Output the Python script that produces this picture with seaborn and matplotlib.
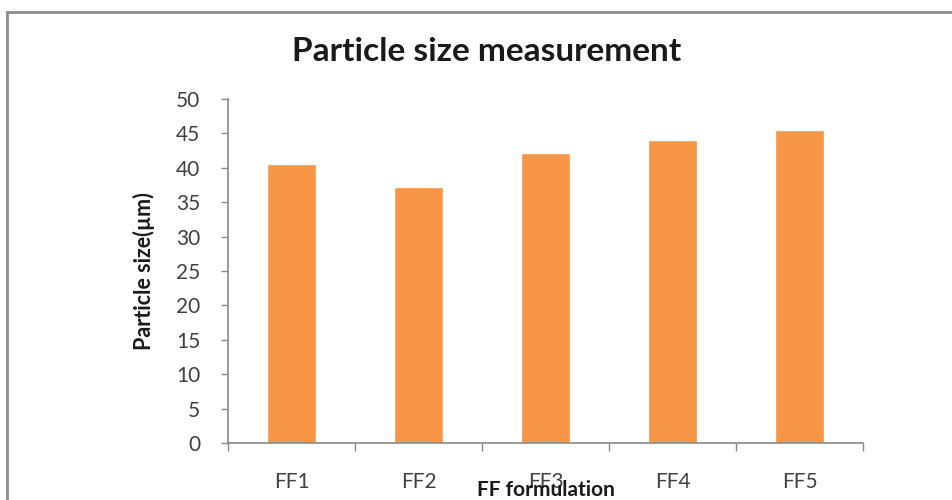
import matplotlib
matplotlib.use("Agg")
import matplotlib.pyplot as plt
import seaborn as sns
import pandas as pd
from matplotlib.patches import Rectangle
from matplotlib.ticker import FixedLocator

categories = ["FF1", "FF2", "FF3", "FF4", "FF5"]
particle_size = [40.5, 37.2, 42.2, 44.0, 45.5]
y_ticks = [0, 5, 10, 15, 20, 25, 30, 35, 40, 45, 50]

sns.set_theme(style="white")
plt.rcParams["font.family"] = ["Lato", "DejaVu Sans"]

df = pd.DataFrame({"formulation": categories, "size": particle_size})

fig = plt.figure(figsize=(9.52, 5.0), dpi=100)
ax = fig.add_axes([228 / 952, 1 - 443 / 500, 635 / 952, 344 / 500])

sns.barplot(data=df, x="formulation", y="size", color="#F79646",
            saturation=1, width=0.39, ax=ax)

ax.set_xlim(-0.5, len(categories) - 0.5)
ax.set_ylim(0, 50)
ax.set_yticks(y_ticks)

axis_grey = "#898989"
for side in ("top", "right"):
    ax.spines[side].set_visible(False)
for side in ("left", "bottom"):
    ax.spines[side].set_color(axis_grey)
    ax.spines[side].set_linewidth(1.2)

ax.tick_params(axis="y", which="major", length=5, width=1, color=axis_grey,
               labelsize=15, labelcolor="#404040", pad=15, left=True)
ax.tick_params(axis="x", which="major", length=0, labelsize=15,
               labelcolor="#404040", pad=21, bottom=True)
ax.xaxis.set_minor_locator(FixedLocator([i - 0.5 for i in range(len(categories) + 1)]))
ax.tick_params(axis="x", which="minor", length=6, width=1, color=axis_grey, bottom=True)

ax.set_xlabel("FF formulation", fontsize=15, fontweight="bold", color="#1a1a1a",
              labelpad=-8.5)
ax.set_ylabel("Particle size(\u00b5m)", fontsize=15.5, fontweight="bold",
              color="#1a1a1a", labelpad=15)

fig.text(487 / 952, 1 - 61 / 500, "Particle size measurement", ha="center",
         va="baseline", fontsize=24, fontweight="bold", color="#1a1a1a")

# outer chart-area frame
frame = Rectangle((7 / 952, -0.05), 1.1, 1 - 12 / 500 + 0.05,
                  transform=fig.transFigure, fill=False,
                  edgecolor="#8c8c8c", linewidth=2, clip_on=False)
fig.patches.append(frame)

fig.savefig("out.png", dpi=100)
